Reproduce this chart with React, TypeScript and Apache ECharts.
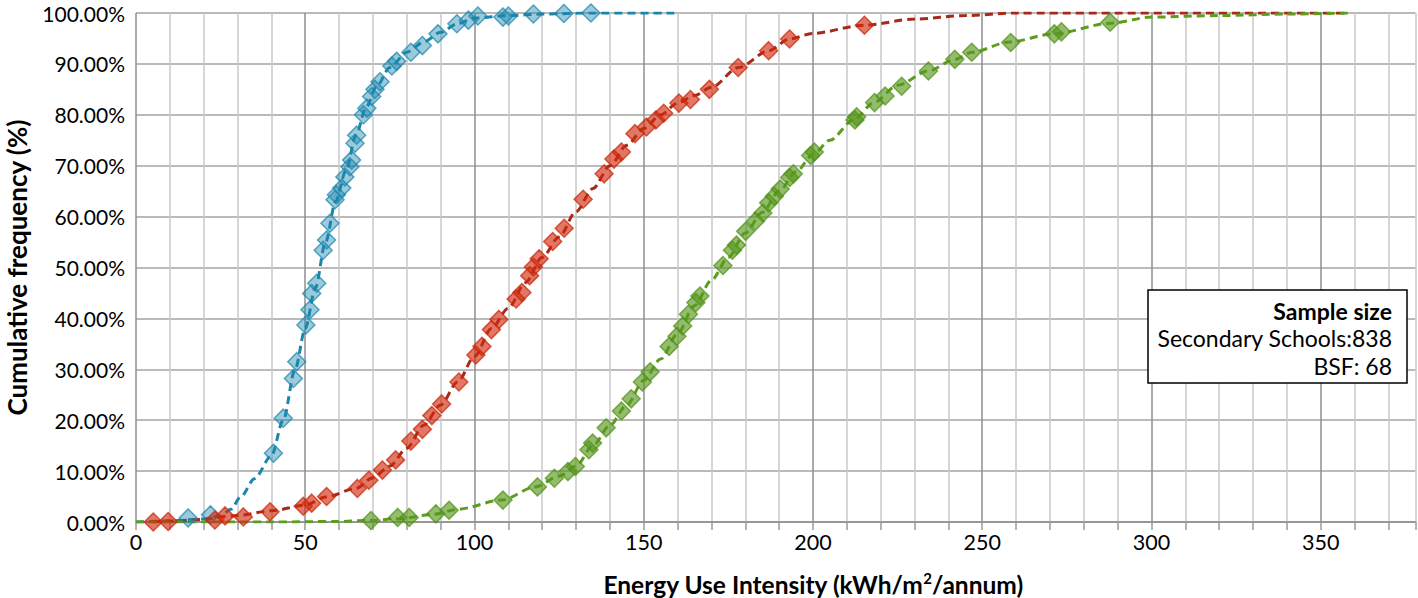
import React, { useEffect, useRef } from "react";
import * as echarts from "echarts";

// Energy Use Intensity (kWh/m2/annum) vs cumulative frequency (%)
// Lines: Secondary Schools distribution (838); markers: BSF schools (68)
const blueLine: number[][] = [
  [0, 0], [10, 0.2], [20, 0.6], [25, 1.2], [28, 2.5], [31, 5], [35, 8.5], [40, 13], [43.5, 20],
  [47, 30], [50, 38], [53, 46], [56, 55], [59, 63], [62, 69], [65, 76], [68, 81.5], [71, 85.5],
  [75, 89.3], [80, 92.3], [85, 94.3], [90, 96.2], [95, 97.9], [100, 99], [110, 99.5], [120, 99.8],
  [135, 100], [159, 100],
];
const redLine: number[][] = [
  [5, 0], [10, 0.2], [20, 0.5], [25, 1], [30, 1.3], [40, 2.2], [50, 3.3], [56, 4.9], [65, 6.6],
  [70, 8.7], [75, 11], [80, 14.5], [85, 19], [90, 23], [95, 27.5], [100, 32.5], [105, 38], [110, 42],
  [115, 47], [120, 52], [125, 56], [130, 61], [135, 65.5], [140, 70], [145, 74], [150, 77.3],
  [155, 80], [160, 82.3], [165, 83.8], [170, 85.4], [178, 89.3], [187, 92.6], [193, 94.9],
  [200, 96], [215, 97.6], [230, 98.8], [245, 99.5], [260, 100], [358, 100],
];
const greenLine: number[][] = [
  [0, 0], [20, 0], [40, 0], [60, 0.1], [69, 0.3], [77, 0.6], [88, 1.5], [95, 2.5], [108, 4.3],
  [118, 6.9], [125, 9], [130, 11], [135, 15], [140, 19], [145, 23], [150, 27.8], [155, 32],
  [160, 37], [165, 42.5], [170, 47.5], [175, 52], [180, 56.8], [185, 60.8], [190, 65], [195, 68.8],
  [200, 72.2], [205, 75], [212, 79], [218, 82.4], [225, 85.8], [234, 88.6], [242, 90.9],
  [247, 92.3], [258, 94.3], [271, 95.9], [288, 98], [300, 99.2], [320, 99.5], [340, 99.8], [358, 100],
];

const blueBsf: number[][] = [
  [15.4, 0.8], [22, 1.4], [40.6, 13.5], [43.5, 20.4], [46.5, 28.2], [47.5, 31.5], [50.2, 38.7],
  [51.4, 41.7], [51.9, 44.9], [53.4, 46.9], [55.3, 53.4], [56.3, 55.4], [57.3, 58.7], [58.8, 63.3],
  [59.2, 64.3], [60.8, 65.6], [61.7, 67.8], [63.2, 69.8], [63.7, 71.1], [64.7, 74.4], [65.2, 76],
  [67.2, 80], [68.2, 81.3], [69.6, 83.6], [70.6, 85], [72.1, 86.5], [75.6, 89.6], [77, 90.5],
  [81.2, 92.3], [84.6, 93.6], [89.2, 95.9], [94.8, 97.9], [98.2, 98.6], [101, 99.4], [108.4, 99.2],
  [110, 99.4], [117.4, 99.8], [126.4, 99.9], [134.4, 100],
];
const redBsf: number[][] = [
  [5.1, 0], [9.5, 0.1], [23.3, 0.4], [26.3, 1.2], [31.7, 1.0], [39.6, 2.0], [49.4, 3.1], [51.9, 3.7],
  [56.3, 5.0], [65.4, 6.6], [68.8, 8.2], [72.8, 10.2], [76.7, 12.2], [81.2, 15.9], [84.6, 18.2],
  [87.4, 20.9], [90.3, 23.2], [95.4, 27.5], [100.4, 32.8], [102.2, 34.5], [105, 37.8], [107.2, 39.8],
  [112.3, 43.8], [114, 45.1], [116.3, 48.4], [117.4, 50.1], [119.1, 51.7], [123.1, 55.1],
  [126.5, 57.7], [132.1, 63.4], [138.3, 68.4], [141.2, 71.3], [143.4, 72.7], [147.4, 76.3],
  [150.8, 77.6], [153.6, 79], [155.9, 80.3], [160.4, 82.3], [163.8, 83], [169.4, 85],
  [177.9, 89.3], [186.9, 92.6], [193.1, 94.9], [215.2, 97.6],
];
const greenBsf: number[][] = [
  [69.4, 0.3], [77.3, 0.9], [80.7, 0.9], [88.6, 1.6], [92.5, 2.3], [108.4, 4.3], [118.6, 6.9],
  [123.6, 8.6], [127.6, 9.9], [129.8, 10.9], [133.8, 14.2], [134.9, 15.5], [138.9, 18.5],
  [143.4, 21.8], [146.3, 24.2], [149.6, 27.5], [151.9, 29.5], [157.5, 34.5], [159.8, 36.5],
  [161.5, 38.5], [163.2, 40.8], [165.4, 43.1], [166.6, 44.4], [173.4, 50.4], [176.2, 53.4],
  [177.4, 54.4], [180.1, 57.1], [183, 59.1], [185.2, 60.7], [186.9, 62.7], [188.6, 64],
  [190.3, 65.4], [193.1, 67.7], [194.2, 68.4], [199.3, 72], [200.4, 72.7], [212.4, 79],
  [212.9, 79.6], [218.2, 82.4], [221.3, 83.7], [226.2, 85.6], [234.1, 88.6], [241.9, 90.9],
  [246.9, 92.3], [258.4, 94.2], [271.3, 95.9], [273.4, 96.3], [287.8, 98.2],
];

const legendLines = ["Sample size", "Secondary Schools:838", "BSF: 68"];
const xTitleA = "Energy Use Intensity (kWh/m";
const xTitleSup = "2";
const xTitleB = "/annum)";
const yTitle = "Cumulative frequency (%)";

const FONT = "Lato, 'Open Sans', sans-serif";

export default function App() {
  const ref = useRef<HTMLDivElement>(null);
  useEffect(() => {
    const chart = echarts.init(ref.current!, null, { renderer: "svg" });
    const lineSeries = (name: string, data: number[][], color: string) => ({
      name,
      type: "line",
      data,
      smooth: 0.3,
      smoothMonotone: "x",
      showSymbol: false,
      symbol: "none",
      lineStyle: { color, width: 3, type: [8, 5] },
      z: 2,
    });
    const markSeries = (name: string, data: number[][], fill: string, border: string) => ({
      name,
      type: "scatter",
      data,
      symbol: "diamond",
      symbolSize: 18,
      itemStyle: { color: fill, borderColor: border, borderWidth: 1.5 },
      z: 3,
    });
    chart.setOption({
      animation: false,
      backgroundColor: "#ffffff",
      textStyle: { fontFamily: FONT },
      grid: { left: 136, top: 13, right: 2.5, bottom: 76, containLabel: false, outerBoundsMode: "none" },
      xAxis: {
        type: "value",
        min: 0,
        max: 378,
        interval: 10,
        axisLine: { show: true, lineStyle: { color: "#8a8a8a", width: 1.5 } },
        axisTick: { show: true, length: 8, lineStyle: { color: "#9a9a9a", width: 1.5 } },
        axisLabel: {
          color: "#000",
          fontSize: 21.5,
          fontFamily: FONT,
          margin: 9,
          formatter: (v: number) => (v % 50 === 0 && v <= 350 ? String(v) : ""),
        },
        splitLine: {
          show: true,
          lineStyle: { color: ["#8f8f8f", "#c8c8c8", "#c8c8c8", "#c8c8c8", "#c8c8c8"], width: 1.5 },
        },
      },
      yAxis: {
        type: "value",
        min: 0,
        max: 100,
        interval: 10,
        name: yTitle,
        nameLocation: "middle",
        nameRotate: 90,
        nameGap: 106,
        nameTextStyle: { color: "#000", fontSize: 26, fontWeight: "bold", fontFamily: FONT },
        axisLine: { show: false },
        axisTick: { show: false },
        axisLabel: {
          color: "#000",
          fontSize: 21,
          fontFamily: FONT,
          margin: 11,
          formatter: (v: number) => v.toFixed(2) + "%",
        },
        splitLine: { show: true, lineStyle: { color: "#a3a3a3", width: 1.5 } },
      },
      graphic: [
        {
          type: "text",
          x: 813,
          y: 584,
          z: 100,
          style: {
            text: "{a|" + xTitleA + "}{s|" + xTitleSup + "}{a|" + xTitleB + "}",
            textAlign: "center",
            textVerticalAlign: "middle",
            rich: {
              a: { fontSize: 24.5, fontWeight: "bold", fontFamily: FONT, fill: "#000", lineHeight: 24 },
              s: { fontSize: 15, fontWeight: "bold", fontFamily: FONT, fill: "#000", lineHeight: 24, padding: [0, 0, 12, 0] },
            },
          },
        },
        {
          type: "group",
          x: 1148,
          y: 290,
          z: 100,
          children: [
            {
              type: "rect",
              z: 100,
              shape: { x: 0, y: 0, width: 259, height: 93 },
              style: { fill: "#ffffff", stroke: "#000", lineWidth: 1.5 },
            },
            {
              type: "text",
              z: 101,
              x: 244,
              y: 21,
              style: { text: legendLines[0], fill: "#000", font: "bold 23px " + FONT, textAlign: "right", textVerticalAlign: "middle" },
            },
            {
              type: "text",
              z: 101,
              x: 244,
              y: 48,
              style: { text: legendLines[1], fill: "#000", font: "23px " + FONT, textAlign: "right", textVerticalAlign: "middle" },
            },
            {
              type: "text",
              z: 101,
              x: 244,
              y: 76,
              style: { text: legendLines[2], fill: "#000", font: "23px " + FONT, textAlign: "right", textVerticalAlign: "middle" },
            },
          ],
        },
      ],
      series: [
        lineSeries("Blue (838)", blueLine, "#1b86ad"),
        lineSeries("Red (838)", redLine, "#a8281a"),
        lineSeries("Green (838)", greenLine, "#5c9e1c"),
        markSeries("Blue (BSF)", blueBsf, "rgba(27,135,174,0.55)", "rgba(27,135,174,0.9)"),
        markSeries("Red (BSF)", redBsf, "rgba(208,42,12,0.8)", "rgba(200,40,12,0.9)"),
        markSeries("Green (BSF)", greenBsf, "rgba(88,150,28,0.8)", "rgba(80,145,25,0.9)"),
      ],
    });
    return () => chart.dispose();
  }, []);
  return <div ref={ref} style={{ position: "fixed", left: 0, top: 0, width: 1418, height: 598 }} />;
}
